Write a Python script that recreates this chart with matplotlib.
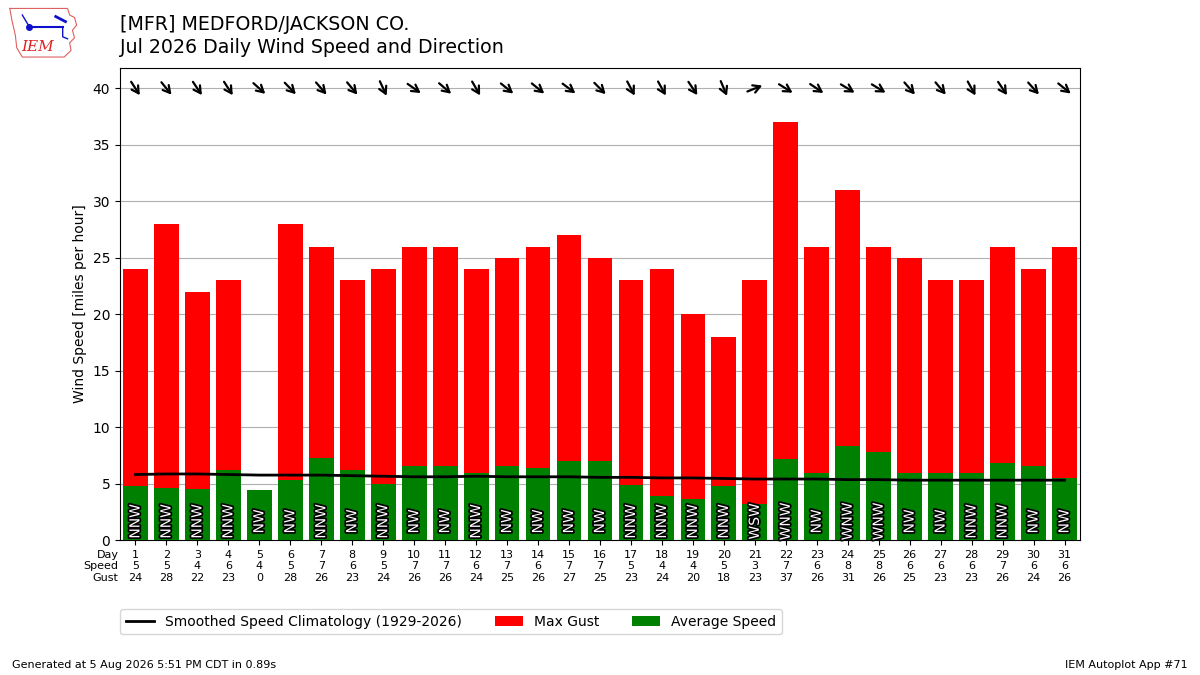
import numpy as np
import matplotlib
matplotlib.use("Agg")
import matplotlib.pyplot as plt
import matplotlib.patheffects as PathEffects
from matplotlib.transforms import offset_copy

###################### Data ###################
days = list(range(1, 32))
avg_speed = [4.8, 4.6, 4.5, 6.2, 4.4, 5.3, 7.3, 6.2, 5.0, 6.6,
             6.6, 5.9, 6.6, 6.4, 7.0, 7.0, 4.9, 3.9, 3.6, 4.8,
             3.2, 7.2, 5.9, 8.3, 7.8, 5.9, 5.9, 5.9, 6.8, 6.6, 5.5]
max_gust = [24, 28, 22, 23, 0, 28, 26, 23, 24, 26,
            26, 24, 25, 26, 27, 25, 23, 24, 20, 18,
            23, 37, 26, 31, 26, 25, 23, 23, 26, 24, 26]
speed_lbl = [5, 5, 4, 6, 4, 5, 7, 6, 5, 7,
             7, 6, 7, 6, 7, 7, 5, 4, 4, 5,
             3, 7, 6, 8, 8, 6, 6, 6, 7, 6, 6]
dir_txt = ["NNW", "NNW", "NNW", "NNW", "NW", "NW", "NNW", "NW", "NNW", "NW",
           "NW", "NNW", "NW", "NW", "NW", "NW", "NNW", "NNW", "NNW", "NNW",
           "WSW", "WNW", "NW", "WNW", "WNW", "NW", "NW", "NNW", "NNW", "NW", "NW"]
# vector mean direction (deg, from)
dir_deg = [327, 321, 326, 327, 312, 316, 319, 320, 335, 305,
           311, 330, 309, 309, 307, 315, 332, 331, 326, 337,
           248, 302, 304, 301, 301, 319, 320, 331, 326, 318, 309]
climo = [5.80, 5.85, 5.85, 5.80, 5.75, 5.75, 5.75, 5.70, 5.65, 5.60,
         5.60, 5.65, 5.60, 5.60, 5.60, 5.55, 5.55, 5.50, 5.50, 5.45,
         5.40, 5.40, 5.40, 5.35, 5.35, 5.30, 5.30, 5.30, 5.30, 5.30, 5.30]

title = "[MFR] MEDFORD/JACKSON CO.\nJul 2026 Daily Wind Speed and Direction"

####################### Plot ############################
fig = plt.figure(figsize=(12, 6.75), dpi=100)
ax = fig.add_axes([0.1, 0.2, 0.8, 0.699])

ax.plot(days, climo, color="k", lw=2, zorder=4,
        label="Smoothed Speed Climatology (1929-2026)")
ax.bar(days, max_gust, width=0.8, color="#ff0000", label="Max Gust", zorder=2)
ax.bar(days, avg_speed, width=0.8, color="#008000", label="Average Speed", zorder=3)

for d, t in zip(days, dir_txt):
    txt = ax.text(d, 1.65, t, rotation=90, ha="center", va="center",
                  color="white", fontsize=10, zorder=5)
    txt.set_path_effects([PathEffects.withStroke(linewidth=2.5, foreground="k")])

# direction arrows along the top
half = 8  # pixels
for d, deg in zip(days, dir_deg):
    rad = np.radians(deg + 180)
    dx = half * np.sin(rad)
    dy = half * np.cos(rad)
    head = offset_copy(ax.transData, fig=fig, x=dx, y=dy, units="dots")
    tail = offset_copy(ax.transData, fig=fig, x=-dx, y=-dy, units="dots")
    ax.annotate("", xy=(d, 40), xycoords=head, xytext=(d, 40), textcoords=tail,
                arrowprops=dict(arrowstyle="->,head_length=0.5,head_width=0.28",
                                lw=1.6, color="k", shrinkA=0, shrinkB=0), zorder=6)

ax.set_xlim(0.5, 31.5)
ax.set_ylim(0, 41.8)
ax.set_yticks(range(0, 41, 5))
ax.grid(axis="y", color="#b0b0b0", zorder=0)
ax.set_axisbelow(True)
ax.set_ylabel("Wind Speed [miles per hour]")
ax.set_xticks(days)
ax.set_xticklabels(["%d\n%d\n%d" % (d, s, g) for d, s, g in zip(days, speed_lbl, max_gust)],
                   fontsize=8)
ax.annotate("Day\nSpeed\nGust", xy=(0, 0), xycoords="axes fraction",
            xytext=(-1, -7), textcoords="offset points", ha="right", va="top",
            fontsize=8, multialignment="right")

ax.legend(ncol=3, loc="upper left", bbox_to_anchor=(-0.007, -0.132), fontsize=10,
          columnspacing=2.4)

fig.text(0.1, 0.978, title, fontsize=13.7, ha="left", va="top", linespacing=1.25)
fig.text(0.01, 0.01, "Generated at 5 Aug 2026 5:51 PM CDT in 0.89s", fontsize=8)
fig.text(0.99, 0.01, "IEM Autoplot App #71", fontsize=8, ha="right")

# rough IEM logo
lax = fig.add_axes([0.007, 0.914, 0.058, 0.075])
lax.set_xlim(0, 1)
lax.set_ylim(0, 1)
lax.axis("off")
iowa_x = [0.02, 0.85, 0.88, 0.95, 0.98, 0.92, 0.95, 0.88, 0.90, 0.80, 0.20, 0.12, 0.10, 0.05, 0.02]
iowa_y = [0.98, 0.98, 0.85, 0.80, 0.65, 0.55, 0.40, 0.30, 0.15, 0.02, 0.02, 0.20, 0.45, 0.75, 0.98]
lax.plot(iowa_x, iowa_y, color="#e06060", lw=0.8)
lax.text(0.42, 0.22, "IEM", color="#dd2222", fontsize=11, family="DejaVu Serif",
         style="italic", ha="center", va="center")
lax.plot([0.3, 0.78], [0.62, 0.62], color="#1010cc", lw=1.5)
lax.plot([0.3], [0.62], "o", color="#1010cc", ms=4)
lax.plot([0.2, 0.3], [0.85, 0.62], color="#1010cc", lw=1)
lax.plot([0.68, 0.82], [0.82, 0.72], color="#1010cc", lw=2)
lax.plot([0.78, 0.78, 0.85], [0.62, 0.42, 0.38], color="#1010cc", lw=1)

fig.savefig("out.png", dpi=100)
